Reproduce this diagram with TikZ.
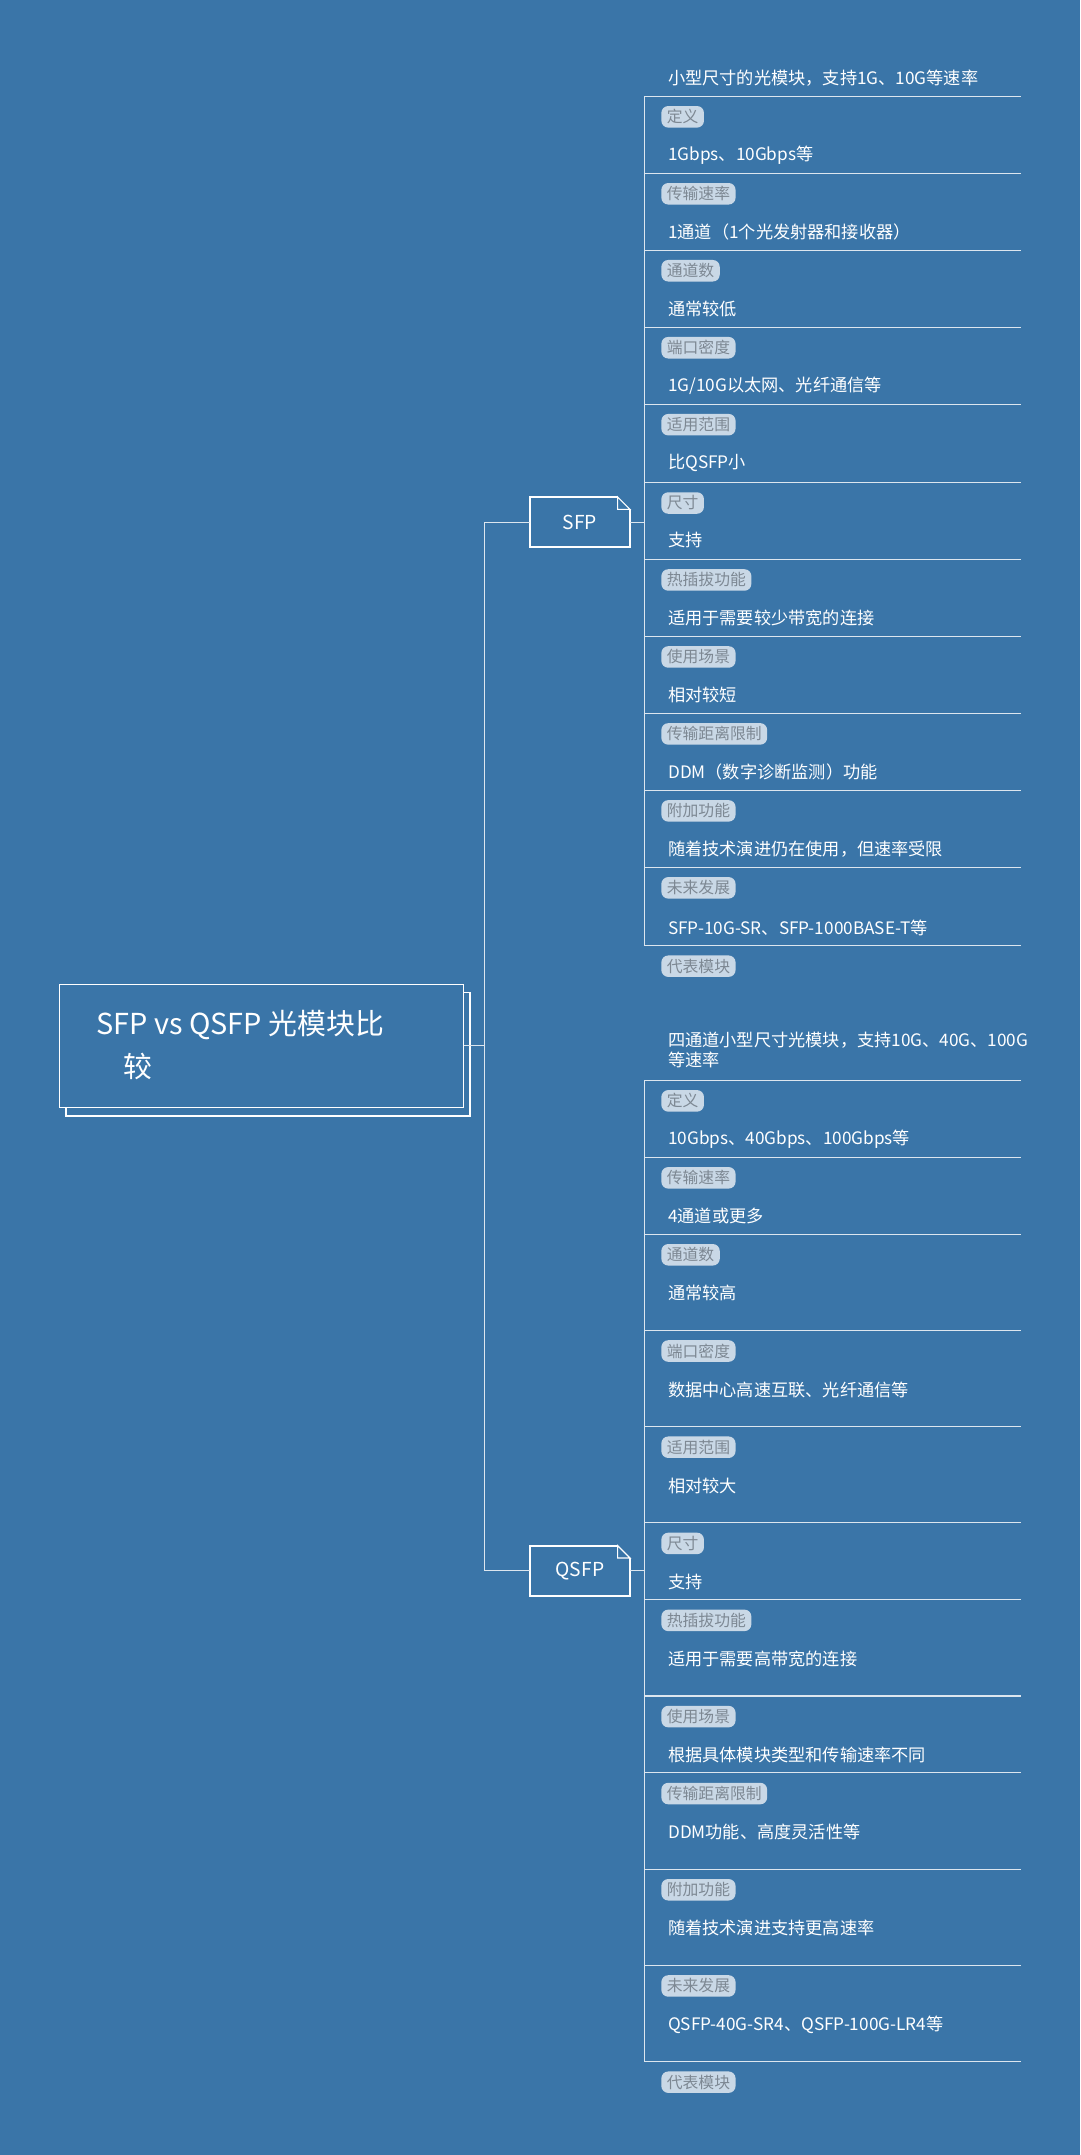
\documentclass[tikz,border=0pt]{standalone}
\usepackage{fontspec}
\setmainfont{Noto Sans CJK SC}
\usetikzlibrary{positioning}
\definecolor{bgblue}{HTML}{3A75A8}
\definecolor{pillfill}{HTML}{C9D8E6}
\definecolor{pilltext}{HTML}{7D8893}
\definecolor{linecol}{HTML}{DCE6EF}
\tikzset{
  branch/.style = {draw = linecol, line width = 0.8pt},
  leaftext/.style = {anchor = west, text = white, font = \fontsize{12.5}{15}\selectfont, inner sep = 0, align = left},
  pill/.style = {anchor = west, fill = pillfill, text = pilltext, rounded corners = 5pt, font = \fontsize{11.5}{13}\selectfont, inner xsep = 4pt, inner ysep = 2.5pt},
  subbox/.style = {draw = white, line width = 0.8pt, minimum width = 72pt, minimum height = 36pt, text = white, font = \fontsize{14}{16}\selectfont}
}
\begin{document}
\begin{tikzpicture}[x = 1pt, y = -1pt]
      \fill [bgblue] (0, 0) rectangle (786, 1568);
      \useasboundingbox (0, 0) rectangle (786, 1568);

      % root
      \draw [white, line width = 0.8pt, fill = bgblue] (48, 722) rectangle (342, 812);
      \node [draw = white, line width = 0.8pt, fill = bgblue, minimum width = 294pt, minimum height = 90pt, inner sep = 0] (root) at (190, 761) {};
      \node [text = white, anchor = north west, align = left, font = \fontsize{21}{31}\selectfont, inner sep = 0] at (70, 735) {SFP vs QSFP 光模块比\\\hspace{20pt}较};

      % subtopics
      \node [subbox] (sfp) at (422, 380) {SFP};
      \node [subbox] (qsfp) at (422, 1143) {QSFP};
      \foreach \n in {sfp, qsfp} {
        \fill [bgblue] ([xshift = -9pt] \n.north east) -- (\n.north east) -- ([yshift = -9pt] \n.north east) -- cycle;
        \draw [white, line width = 0.8pt] ([xshift = -9pt] \n.north east) -- ([yshift = -9pt] \n.north east) -- ([xshift = -9pt, yshift = -9pt] \n.north east) -- cycle;
        \draw [white, line width = 0.8pt] ([xshift = -9pt] \n.north east) -- (\n.north west) -- (\n.south west) -- (\n.south east) -- ([yshift = -9pt] \n.north east);
      }
      \draw [branch] (root.east) -- ++(15, 0) coordinate (fork);
      \draw [branch] (fork) |- (sfp.west);
      \draw [branch] (fork) |- (qsfp.west);

      % SFP leaves
      \coordinate (sfptop) at (469, 70);
      \coordinate (sfpbot) at (469, 688);
      \draw [branch] (sfptop) -- (sfpbot);
      \draw [branch] (sfp.east) -- (sfptop |- sfp.east);
      \foreach \ty/\ly/\txt/\lab [count = \i] in {
        57/70/{小型尺寸的光模块，支持1G、10G等速率}/定义,
        113/126/{1Gbps、10Gbps等}/传输速率,
        169/182/{1通道（1个光发射器和接收器）}/通道数,
        225/238/{通常较低}/端口密度,
        281/294/{1G/10G以太网、光纤通信等}/适用范围,
        337/351/{比QSFP小}/尺寸,
        393/407/{支持}/热插拔功能,
        450/463/{适用于需要较少带宽的连接}/使用场景,
        506/519/{相对较短}/传输距离限制,
        562/575/{DDM（数字诊断监测）功能}/附加功能,
        618/631/{随着技术演进仍在使用，但速率受限}/未来发展,
        675/688/{SFP-10G-SR、SFP-1000BASE-T等}/代表模块} {
        \node [leaftext] (sfptxt\i) at (486, \ty) {\txt};
        \draw [branch] (469, \ly) coordinate (sfpl\i) -- (743, \ly);
        \node [pill] (sfplab\i) at (481, \ly + 15) {\lab};
      }

      % QSFP leaves
      \coordinate (qsfptop) at (469, 786);
      \coordinate (qsfpbot) at (469, 1500);
      \draw [branch] (qsfptop) -- (qsfpbot);
      \draw [branch] (qsfp.east) -- (qsfptop |- qsfp.east);
      \foreach \ty/\ly/\txt/\lab [count = \i] in {
        764/786/{四通道小型尺寸光模块，支持10G、40G、100G\\等速率}/定义,
        829/842/{10Gbps、40Gbps、100Gbps等}/传输速率,
        885/898/{4通道或更多}/通道数,
        941/968/{通常较高}/端口密度,
        1011/1038/{数据中心高速互联、光纤通信等}/适用范围,
        1081/1108/{相对较大}/尺寸,
        1151/1164/{支持}/热插拔功能,
        1207/1234/{适用于需要高带宽的连接}/使用场景,
        1277/1290/{根据具体模块类型和传输速率不同}/传输距离限制,
        1333/1360/{DDM功能、高度灵活性等}/附加功能,
        1403/1430/{随着技术演进支持更高速率}/未来发展,
        1473/1500/{QSFP-40G-SR4、QSFP-100G-LR4等}/代表模块} {
        \node [leaftext] (qsfptxt\i) at (486, \ty) {\txt};
        \draw [branch] (469, \ly) coordinate (qsfpl\i) -- (743, \ly);
        \node [pill] (qsfplab\i) at (481, \ly + 15) {\lab};
      }
    \end{tikzpicture}
\end{document}
